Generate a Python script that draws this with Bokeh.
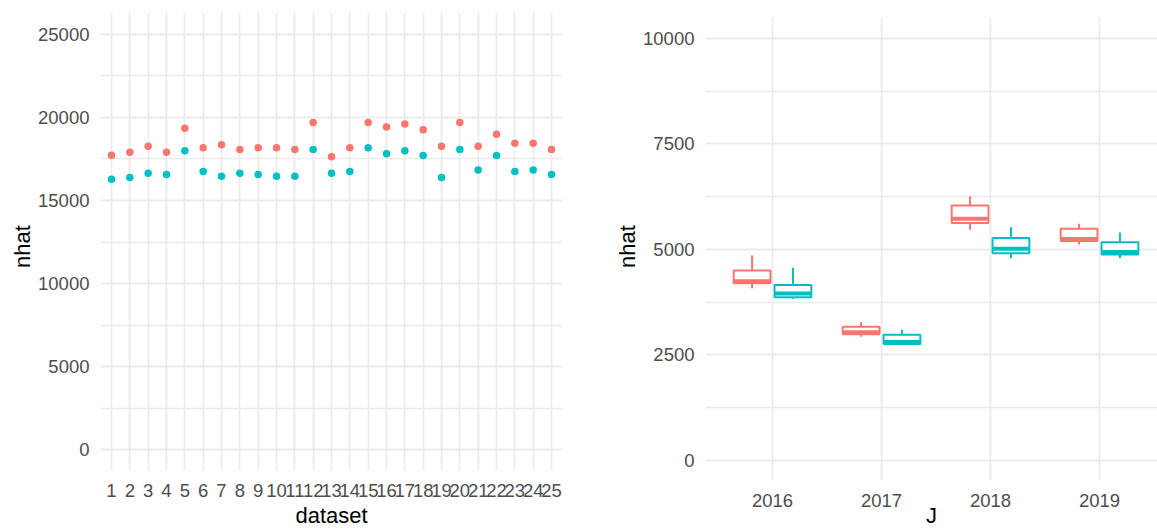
from bokeh.plotting import figure
from bokeh.layouts import row
from bokeh.models import Range1d, FixedTicker, SingleIntervalTicker, ColumnDataSource, BoxAnnotation
from bokeh.transform import dodge
from bokeh.embed import file_html
from bokeh.resources import INLINE

# ---------------- data ----------------
dataset = [1, 2, 3, 4, 5, 6, 7, 8, 9, 10, 11, 12, 13, 14, 15, 16, 17, 18, 19, 20, 21, 22, 23, 24, 25]
nhat_red = [17730, 17910, 18270, 17910, 19340, 18170, 18350, 18070, 18170, 18170, 18070, 19700, 17630,
            18170, 19700, 19430, 19610, 19250, 18270, 19700, 18270, 18990, 18450, 18450, 18070]
nhat_teal = [16280, 16390, 16640, 16570, 17990, 16750, 16460, 16640, 16570, 16460, 16460, 18070, 16640,
             16750, 18170, 17810, 17990, 17710, 16390, 18070, 16830, 17710, 16750, 16830, 16570]

years = ["2016", "2017", "2018", "2019"]
red_lower = [4080, 2930, 5470, 5120]
red_q1 = [4200, 2990, 5630, 5200]
red_median = [4250, 3040, 5730, 5250]
red_q3 = [4500, 3170, 6040, 5490]
red_upper = [4860, 3280, 6260, 5610]

teal_lower = [3830, 2750, 4790, 4790]
teal_q1 = [3870, 2760, 4910, 4880]
teal_median = [3960, 2810, 5020, 4940]
teal_q3 = [4160, 2980, 5270, 5170]
teal_upper = [4570, 3100, 5530, 5400]

RED = "#F8766D"
TEAL = "#00BFC4"
FONT = "Liberation Sans"


def style(p):
    p.outline_line_color = None
    p.background_fill_color = "white"
    p.border_fill_color = "white"
    for ax in p.axis:
        ax.axis_line_color = None
        ax.major_tick_line_color = None
        ax.minor_tick_line_color = None
        ax.major_tick_out = 0
        ax.major_tick_in = 0
        ax.minor_tick_out = 0
        ax.minor_tick_in = 0
        ax.major_label_text_font = FONT
        ax.major_label_text_font_size = "18.5px"
        ax.major_label_text_color = "#4D4D4D"
        ax.axis_label_text_font = FONT
        ax.axis_label_text_font_size = "22px"
        ax.axis_label_text_font_style = "normal"
        ax.axis_label_text_color = "black"
    for g in p.grid:
        g.grid_line_color = "#EBEBEB"
        g.grid_line_width = 1.7
    p.ygrid.minor_grid_line_color = "#EBEBEB"
    p.ygrid.minor_grid_line_width = 1.3


# ---------------- left panel ----------------
p1 = figure(width=600, height=532, output_backend="svg", toolbar_location=None,
            x_range=Range1d(0.4, 25.6), y_range=Range1d(-1847, 26312),
            min_border_left=100, min_border_right=38, min_border_top=12, min_border_bottom=52,
            x_axis_label="dataset", y_axis_label="nhat")
p1.xaxis.ticker = FixedTicker(ticks=dataset)
p1.yaxis.ticker = SingleIntervalTicker(interval=5000, num_minor_ticks=2)
style(p1)
p1.xaxis.major_label_standoff = 3
p1.xaxis.axis_label_standoff = 3
p1.yaxis.major_label_standoff = 11
p1.yaxis.axis_label_standoff = 0
# panel area ends at the 5% expansion below 0 (as in the reference)
p1.add_layout(BoxAnnotation(top=-1250, fill_color="white", fill_alpha=1.0, line_color=None))

src_pts = ColumnDataSource(dict(x=dataset, red=nhat_red, teal=nhat_teal))
p1.scatter("x", "red", source=src_pts, size=7.5, fill_color=RED, line_color=None)
p1.scatter("x", "teal", source=src_pts, size=7.5, fill_color=TEAL, line_color=None)

# ---------------- right panel ----------------
pos = [1, 2, 3, 4]
p2 = figure(width=557, height=532, output_backend="svg", toolbar_location=None,
            x_range=Range1d(0.385, 4.532), y_range=Range1d(-474, 10616),
            min_border_left=105, min_border_right=0, min_border_top=12, min_border_bottom=52,
            x_axis_label="J", y_axis_label="nhat")
p2.xaxis.ticker = FixedTicker(ticks=pos)
p2.xaxis.major_label_overrides = {pp: yy for pp, yy in zip(pos, years)}
p2.yaxis.ticker = SingleIntervalTicker(interval=2500, num_minor_ticks=2)
style(p2)
p2.xaxis.major_label_standoff = 13
p2.xaxis.axis_label_standoff = -7
p2.yaxis.major_label_standoff = 11
p2.yaxis.axis_label_standoff = 0
# panel area ends at the 5% expansion above 10000 (as in the reference)
p2.add_layout(BoxAnnotation(bottom=10500, fill_color="white", fill_alpha=1.0, line_color=None))

OFF = 0.1875
BW = 0.3375
for color, off, lo, q1, med, q3, up in [
    (RED, -OFF, red_lower, red_q1, red_median, red_q3, red_upper),
    (TEAL, OFF, teal_lower, teal_q1, teal_median, teal_q3, teal_upper),
]:
    src = ColumnDataSource(dict(x=pos, lo=lo, q1=q1, med=med, q3=q3, up=up))
    xd = dodge("x", off, range=p2.x_range)
    p2.segment(x0=xd, y0="q3", x1=xd, y1="up", source=src, line_color=color, line_width=2)
    p2.segment(x0=xd, y0="lo", x1=xd, y1="q1", source=src, line_color=color, line_width=2)
    p2.vbar(x=xd, width=BW, bottom="q1", top="q3", source=src,
            fill_color="white", line_color=color, line_width=2)
    p2.segment(x0=dodge("x", off - BW / 2, range=p2.x_range), y0="med",
               x1=dodge("x", off + BW / 2, range=p2.x_range), y1="med",
               source=src, line_color=color, line_width=4)

layout = row(p1, p2)
open("out.html", "w").write(file_html(layout, INLINE))
